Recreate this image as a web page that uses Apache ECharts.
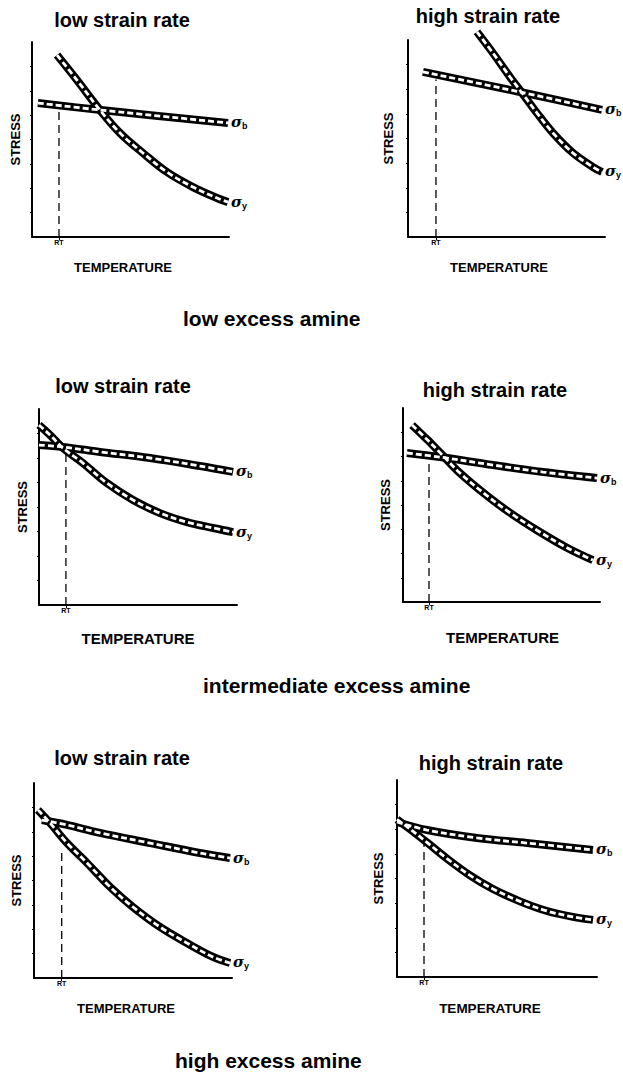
<!DOCTYPE html>
<html>
<head>
<meta charset="utf-8">
<script src="https://cdn.jsdelivr.net/npm/echarts@6/dist/echarts.min.js"></script>
<style>
  html, body { margin: 0; padding: 0; background: #fff; }
  #chart { width: 623px; height: 1074px; }
</style>
</head>
<body>
<div id="chart"></div>
<script>
// ---- Text ----
const panelTitles = ['low strain rate', 'high strain rate', 'low strain rate', 'high strain rate', 'low strain rate', 'high strain rate'];
const groupLabels = ['low excess amine', 'intermediate excess amine', 'high excess amine'];
const tempName = 'TEMPERATURE';
const stressName = 'STRESS';
const rtName = 'RT';

// ---- Room temperature marker (temperature, stress where the dashed line stops) ----
const rtTemp = [13.7, 14.2, 13.6, 13.2, 14.0, 13.5];
const rtStress = [65.5, 80, 80, 73, 66, 68];

// ---- Yield stress (sigma_y) curves, [temperature, stress] in relative units ----
const yield1 = [[12.7, 93.3], [22.8, 80.5], [34.5, 65.1], [44.7, 53.3], [56.3, 43.1], [68.5, 33.3], [81.7, 25.6], [93.9, 20.0], [99.5, 17.9]];
const yield2 = [[35.0, 104.1], [43.1, 93.4], [51.8, 81.2], [57.9, 73.1], [65.5, 62.9], [73.6, 52.8], [83.8, 42.6], [93.9, 35.5], [98.5, 33.0]];
const yield3 = [[0, 91.8], [5.6, 86.7], [12.1, 80.1], [22.2, 72.4], [34.3, 62.2], [47.5, 53.6], [61.1, 46.9], [74.7, 42.3], [87.9, 39.3], [98, 37.2]];
const yield4 = [[4.6, 91.2], [12.2, 83.8], [18.8, 77.0], [28.9, 66.5], [42.6, 54.8], [54.3, 46.0], [68, 37.0], [83.2, 28.0], [96.4, 21.6]];
const yield5 = [[2, 86.2], [8.1, 79.5], [16.7, 69.2], [26.8, 59.0], [38.4, 46.7], [50, 36.4], [63.6, 26.2], [77.3, 17.9], [90.4, 10.8], [99, 7.7]];
const yield6 = [[0, 80.0], [6.5, 75.1], [15, 68.3], [25, 60.1], [36.5, 51.6], [48, 44.7], [61.5, 38.4], [75, 33.5], [88, 30.5], [98, 29.0]];

// ---- Brittle fracture stress (sigma_b) lines ----
const break1 = [[3, 68.7], [35, 65.1], [99.5, 58.5]];
const break2 = [[7.6, 83.8], [56.9, 73.6], [98.5, 64.5]];
const break3 = [[0, 81.6], [12.1, 80.6], [30.8, 78.1], [56.1, 75.0], [81.3, 70.9], [98, 67.9]];
const break4 = [[2, 76.8], [18.8, 74.7], [45.7, 70.6], [71.1, 67.0], [98.5, 63.9]];
const break5 = [[4, 81.0], [16.7, 78.5], [33.3, 74.4], [58.6, 69.2], [83.8, 64.1], [99, 61.5]];
const break6 = [[0, 78.7], [15, 74.6], [40, 70.6], [65, 68.0], [98, 64.5]];

const yieldCurves = [yield1, yield2, yield3, yield4, yield5, yield6];
const breakCurves = [break1, break2, break3, break4, break5, break6];

// ---- Layout (pixels) ----
const gridBox = [
  [32, 42, 197, 195], [408, 40, 197, 197],
  [39, 409, 198, 196], [403, 408, 197, 194],
  [34, 783, 198, 195], [397, 780, 200, 197]
];
const titlePos = [[122, 20], [488, 16], [123, 386], [495, 390], [122, 758], [491, 763]];
const groupPos = [[183, 318.7], [203, 685.7], [175, 1060.7]];
const xNameGap = [23.5, 23.5, 25.5, 27.5, 23.5, 24];
const xNameShift = [-7.5, -7.5, 0, 1, -7, -7];
const xNameSize = [13, 13, 15, 15, 13, 13.5];
const yNameGap = [10.5, 13.5, 10.5, 11.5, 11.5, 12.5];

const FONT = '"Liberation Sans", Arial, sans-serif';
const INK = '#000';

const sigmaRich = {
  s: { fontFamily: '"DejaVu Serif", serif', fontStyle: 'italic', fontWeight: 'bold', fontSize: 15, lineHeight: 16, verticalAlign: 'top', color: INK },
  b: { fontFamily: FONT, fontWeight: 'bold', fontSize: 9, lineHeight: 11, verticalAlign: 'bottom', padding: [7, 0, 0, 0], color: INK }
};

const grid = [], xAxis = [], yAxis = [], series = [], graphic = [];

gridBox.forEach((g, i) => {
  grid.push({ left: g[0], top: g[1], width: g[2], height: g[3], containLabel: false });

  const shift = xNameShift[i];
  xAxis.push({
    gridIndex: i, type: 'value', min: 0, max: 100,
    name: tempName, nameLocation: 'middle', nameGap: xNameGap[i],
    nameTextStyle: {
      fontFamily: FONT, fontWeight: 'bold', fontSize: xNameSize[i], color: INK,
      padding: shift < 0 ? [0, -2 * shift, 0, 0] : [0, 0, 0, 2 * shift]
    },
    axisLine: { show: true, onZero: false, lineStyle: { color: INK, width: 2 } },
    axisTick: { show: true, length: 3, customValues: [rtTemp[i]], lineStyle: { color: INK, width: 1 } },
    axisLabel: {
      show: true, customValues: [rtTemp[i]], formatter: () => rtName,
      fontFamily: FONT, fontWeight: 'bold', fontSize: 7, color: INK, margin: 2
    },
    splitLine: { show: false }
  });

  yAxis.push({
    gridIndex: i, type: 'value', min: 0, max: 100,
    name: stressName, nameLocation: 'middle', nameGap: yNameGap[i], nameRotate: 90,
    nameTextStyle: { fontFamily: FONT, fontWeight: 'bold', fontSize: 13, color: INK },
    axisLine: { show: true, onZero: false, lineStyle: { color: INK, width: 2 } },
    axisTick: { show: true, length: 2, interval: 0, customValues: [12.5, 25, 37.5, 50, 62.5, 75, 87.5], lineStyle: { color: INK, width: 1 } },
    axisLabel: { show: false },
    splitLine: { show: false }
  });

  // each band: a thick black stroke with a white dashed core
  const band = (data, sub) => [
    {
      type: 'line', xAxisIndex: i, yAxisIndex: i, data: data, smooth: 0.35,
      showSymbol: false, symbol: 'none', clip: false, silent: true,
      lineStyle: { color: INK, width: 8, cap: 'butt', join: 'round' },
      endLabel: {
        show: true, distance: 3, formatter: '{s|σ}{b|' + sub + '}', rich: sigmaRich
      },
      z: 2
    },
    {
      type: 'line', xAxisIndex: i, yAxisIndex: i, data: data, smooth: 0.35,
      showSymbol: false, symbol: 'none', clip: false, silent: true,
      lineStyle: { color: '#fff', width: 2.8, type: [6, 3], cap: 'butt' },
      z: 3
    }
  ];
  series.push(...band(breakCurves[i], 'b'));
  series.push(...band(yieldCurves[i], 'y'));

  // room temperature guide
  series.push({
    type: 'line', xAxisIndex: i, yAxisIndex: i,
    data: [[rtTemp[i], 0], [rtTemp[i], rtStress[i]]],
    showSymbol: false, symbol: 'none', silent: true,
    lineStyle: { color: INK, width: 1.3, type: [8, 5] },
    z: 1
  });

  graphic.push({
    type: 'text', x: titlePos[i][0], y: titlePos[i][1],
    style: {
      text: panelTitles[i], fill: INK,
      font: 'bold 20px ' + FONT, textAlign: 'center', textVerticalAlign: 'middle'
    }
  });
});

groupLabels.forEach((t, k) => {
  graphic.push({
    type: 'text', x: groupPos[k][0], y: groupPos[k][1],
    style: {
      text: t, fill: INK,
      font: 'bold 21px ' + FONT, textAlign: 'left', textVerticalAlign: 'middle'
    }
  });
});

const chart = echarts.init(document.getElementById('chart'), null, { renderer: 'svg', width: 623, height: 1074 });
chart.setOption({
  animation: false,
  backgroundColor: '#fff',
  grid, xAxis, yAxis, series, graphic
});
</script>
</body>
</html>
